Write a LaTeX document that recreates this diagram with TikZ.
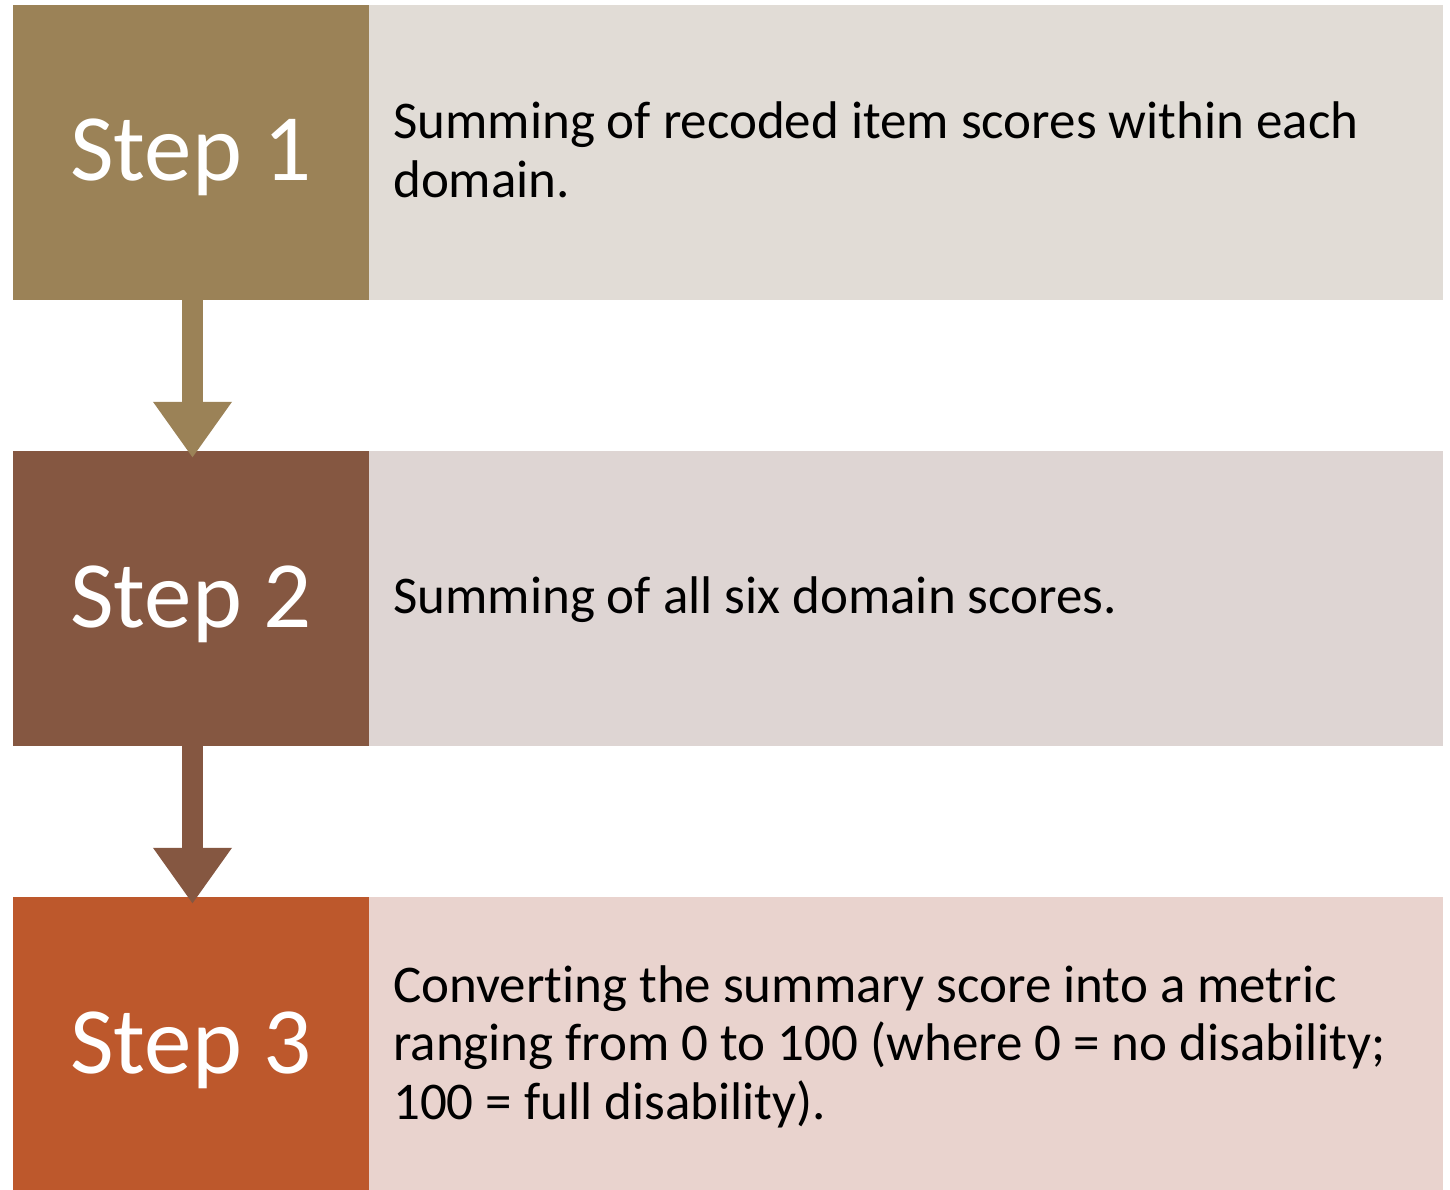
\documentclass[tikz,border=0pt]{standalone}
\usepackage{fontspec}
\setmainfont{Carlito}[Ligatures=NoCommon]
\usetikzlibrary{arrows.meta}
\definecolor{cdA}{RGB}{155,130,87}
\definecolor{clA}{RGB}{225,220,214}
\definecolor{cdB}{RGB}{133,87,65}
\definecolor{clB}{RGB}{222,213,211}
\definecolor{cdC}{RGB}{189,88,44}
\definecolor{clC}{RGB}{233,211,206}
\tikzset{
  stepbox/.style={draw=none, inner sep=0pt, minimum width=356pt, minimum height=295pt,
    text=white, font=\fontsize{95}{110}\selectfont, text height=57pt, text depth=0pt},
  descbox/.style={draw=none, inner sep=0pt, minimum width=1074pt, minimum height=295pt},
  desctext/.style={inner sep=0pt, anchor=base west, text=black,
    font=\fontsize{53}{58.5}\selectfont},
  flowarrow/.style={line width=21pt, shorten >=-7pt,
    -{Triangle[length=56pt, width=75pt]}}
}
\begin{document}
\begin{tikzpicture}[x=1pt,y=-1pt]
\useasboundingbox (0,0) rectangle (1450,1190);
\fill[white] (0,0) rectangle (1450,1190);
% Step 1
\node[descbox, fill=clA] (r1) at (906,152.5) {};
\node[stepbox, fill=cdA] (s1) at (191,152.5) {Step 1};
\node[desctext] (t1) at (393,139) {\vtop{\hbox{Summing of recoded item scores within each}\hbox{domain.}}};
% Step 2
\node[descbox, fill=clB] (r2) at (906,598.5) {};
\node[stepbox, fill=cdB] (s2) at (191,598.5) {Step 2};
\node[desctext] (t2) at (393,613) {Summing of all six domain scores.};
% Step 3
\node[descbox, fill=clC] (r3) at (906,1044.5) {};
\node[stepbox, fill=cdC] (s3) at (191,1044.5) {Step 3};
\node[desctext] (t3) at (393,1002) {\vtop{\hbox{Converting the summary score into a metric}\hbox{ranging from 0 to 100 (where 0 = no disability;}\hbox{100 = full disability).}}};
% arrows
\draw[flowarrow, draw=cdA, fill=cdA] ([xshift=1.5pt]s1.south) -- ([xshift=1.5pt]s2.north);
\draw[flowarrow, draw=cdB, fill=cdB] ([xshift=1.5pt]s2.south) -- ([xshift=1.5pt]s3.north);
\end{tikzpicture}
\end{document}
